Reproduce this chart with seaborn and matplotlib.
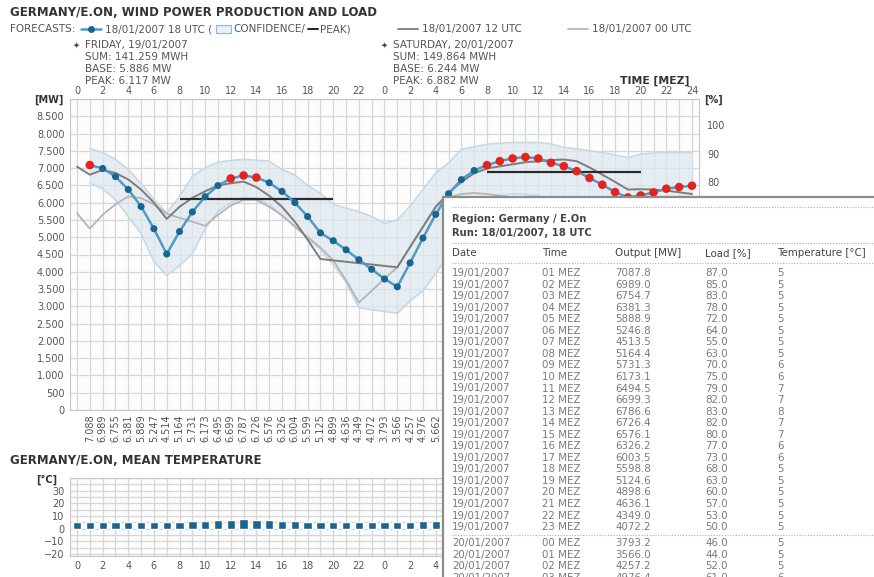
import matplotlib
matplotlib.use("Agg")
import matplotlib.pyplot as plt
import seaborn as sns
from matplotlib.transforms import Affine2D
from matplotlib.lines import Line2D
from matplotlib.patches import Rectangle

# ---- data ----
hours_all = list(range(0, 49))          # 19/01 00 MEZ .. 21/01 00 MEZ
hours = list(range(1, 49))

# forecast run 18/01/2007 18 UTC [MW] (hours 1..48)
fc_18 = [7087.8, 6989.0, 6754.7, 6381.3, 5888.9, 5246.8, 4513.5, 5164.4, 5731.3, 6173.1,
         6494.5, 6699.3, 6786.6, 6726.4, 6576.1, 6326.2, 6003.5, 5598.8, 5124.6, 4898.6,
         4636.1, 4349.0, 4072.2, 3793.2, 3566.0, 4257.2, 4976.4, 5662.0, 6257, 6667,
         6930, 7085, 7203, 7280, 7320, 7280, 7154, 7057, 6911, 6716,
         6520, 6306, 6150, 6209, 6296, 6404, 6452, 6491]
# red markers (above peak threshold)
is_peak = [1, 0, 0, 0, 0, 0, 0, 0, 0, 0, 0, 1, 1, 1, 0, 0, 0, 0, 0, 0,
           0, 0, 0, 0, 0, 0, 0, 0, 0, 0, 0, 1, 1, 1, 1, 1, 1, 1, 1, 1,
           1, 1, 1, 1, 1, 1, 1, 1]

conf_upper = [7560, 7450, 7250, 6960, 6550, 6100, 5700, 6180, 6760, 7010,
              7170, 7220, 7250, 7230, 7200, 6960, 6800, 6500, 6270, 5950,
              5840, 5740, 5600, 5400, 5500, 5900, 6380, 6860, 7150, 7540,
              7620, 7690, 7720, 7740, 7740, 7740, 7700, 7600, 7560, 7500,
              7450, 7380, 7300, 7400, 7440, 7450, 7450, 7450]
conf_lower = [6570, 6400, 6080, 5600, 5100, 4300, 3890, 4180, 4520, 5250,
              5750, 6000, 6150, 6120, 5950, 5600, 5350, 4950, 4650, 4200,
              3700, 2960, 2900, 2850, 2800, 3160, 3450, 3950, 4500, 5200,
              5800, 6100, 6200, 6250, 6240, 6200, 6000, 5800, 5600, 5400,
              5200, 5000, 4900, 4900, 4950, 5000, 5000, 5000]

# forecast run 18/01/2007 12 UTC (hours 0..48)
fc_12 = [7040, 6810, 6950, 6860, 6670, 6380, 6000, 5530, 5880, 6140,
         6330, 6500, 6560, 6610, 6450, 6200, 5880, 5450, 4930, 4370,
         4330, 4290, 4250, 4210, 4170, 4130, 4720, 5300, 5880, 6280,
         6600, 6850, 6990, 7050, 7110, 7170, 7200, 7230, 7250, 7200,
         7020, 6810, 6600, 6380, 6390, 6380, 6350, 6300, 6250]
# forecast run 18/01/2007 00 UTC (hours 0..48)
fc_00 = [5690, 5250, 5650, 5950, 6180, 6130, 5950, 5680, 5560, 5450,
         5330, 5650, 5920, 6080, 6080, 5880, 5640, 5300, 5000, 4700,
         4330, 3750, 3110, 3450, 3800, 4130, 4720, 5300, 5880, 6150,
         6250, 6280, 6250, 6200, 6150, 6100, 6050, 5950, 5850, 5750,
         5650, 5550, 5450, 5400, 5400, 5400, 5400, 5400, 5400]

# daily peak
peak_mw = [6117, 6882]
peak_from = [8, 32]
peak_to = [20, 44]

# mean temperature [°C] (hours 0..48)
temperature = [5, 5, 5, 5, 5, 5, 5, 5, 5, 6, 6, 7, 7, 8, 7, 7, 6, 6,
               5, 5, 5, 5, 5, 5, 5, 5, 5, 6, 6, 6, 6, 7, 7, 7, 7, 7, 7,
               6, 6, 6, 6, 5, 5, 5, 5, 5, 5, 5, 5]

day_names = ["FRIDAY, 19/01/2007", "SATURDAY, 20/01/2007"]
day_sum = [141259, 149864]
day_base = [5886, 6244]
day_peak = [6117, 6882]

# popup table
tab_dates = ["19/01/2007"] * 23 + ["20/01/2007"] * 4
tab_times = [f"{h:02d} MEZ" for h in range(1, 24)] + ["00 MEZ", "01 MEZ", "02 MEZ", "03 MEZ"]
tab_load = [87.0, 85.0, 83.0, 78.0, 72.0, 64.0, 55.0, 63.0, 70.0, 75.0, 79.0, 82.0,
            83.0, 82.0, 80.0, 77.0, 73.0, 68.0, 63.0, 60.0, 57.0, 53.0, 50.0,
            46.0, 44.0, 52.0, 61.0]
tab_output = fc_18[:27]
tab_temp = temperature[1:28]

# last hour not hidden by the popup
last_visible = 28

# ---- styling ----
sns.set_style("white")
plt.rcParams['font.family'] = ['DejaVu Sans']

W, H = 874, 577
fig = plt.figure(figsize=(W / 100, H / 100), dpi=100)
pix = Affine2D().scale(1 / W, -1 / H).translate(0, 1) + fig.transFigure


def box(l, t, r, b):
    return [l / W, 1 - b / H, (r - l) / W, (b - t) / H]


def de(v):
    return f"{int(v + 0.5):,}".replace(",", ".")


def txt(x, y, s, size=7.5, color='#555555', **kw):
    return fig.text(x, y, s, transform=pix, va='center', size=size, color=color, **kw)


GRID = '#d6d6d6'
BLUE_LINE = '#4f9bc4'
BLUE_DOT = '#176690'
RED_DOT = '#e4231f'
DARK_GRAY = '#7d7d7d'
LIGHT_GRAY = '#b5b5b5'

# ---- header ----
txt(10, 13, "GERMANY/E.ON, WIND POWER PRODUCTION AND LOAD", size=8.5, color='#333333', weight='bold')

# legend row, laid out left to right from measured text widths
renderer = fig.canvas.get_renderer()
LY = 29
items = [("text", "FORECASTS:"), ("gap", 6), ("blue", 20), ("gap", 4),
         ("text", "18/01/2007 18 UTC ("), ("gap", 3), ("box", 15), ("gap", 3),
         ("text", "CONFIDENCE/"), ("gap", 3), ("dash", 10), ("gap", 2), ("text", "PEAK)"),
         ("big", 0), ("dark", 20), ("gap", 4), ("text", "18/01/2007 12 UTC"),
         ("big", 0), ("light", 20), ("gap", 4), ("text", "18/01/2007 00 UTC")]
texts = {}
fixed = 0
for k, (kind, v) in enumerate(items):
    if kind == "text":
        t = txt(0, LY, v)
        texts[k] = t
        fixed += t.get_window_extent(renderer).width
    elif kind != "big":
        fixed += v
n_big = sum(1 for kind, _ in items if kind == "big")
big = (692 - 10 - fixed) / n_big
x = 10
for k, (kind, v) in enumerate(items):
    if kind == "text":
        texts[k].set_x(x)
        x += texts[k].get_window_extent(renderer).width
    elif kind == "gap":
        x += v
    elif kind == "big":
        x += big
    else:
        if kind == "blue":
            fig.add_artist(Line2D([x, x + v], [LY, LY], transform=pix, color=BLUE_LINE, lw=1.8))
            fig.add_artist(Line2D([x + v / 2], [LY], transform=pix, marker='o', ms=5,
                                  mec='none', color=BLUE_DOT))
        elif kind == "box":
            fig.add_artist(Rectangle((x, LY - 4), v, 8, transform=pix, facecolor='#e6eff5',
                                     edgecolor='#8fb6d0', lw=0.8))
        elif kind == "dash":
            fig.add_artist(Line2D([x, x + v], [LY, LY], transform=pix, color='#222222', lw=1.4))
        elif kind == "dark":
            fig.add_artist(Line2D([x, x + v], [LY, LY], transform=pix, color=DARK_GRAY, lw=1.3))
        elif kind == "light":
            fig.add_artist(Line2D([x, x + v], [LY, LY], transform=pix, color=LIGHT_GRAY, lw=1.3))
        x += v

for i, x0 in enumerate([77, 385]):
    txt(x0 - 4, 45, "✦", size=6, color='#444444')
    txt(x0 + 8, 45, day_names[i])
    txt(x0 + 8, 57, f"SUM: {de(day_sum[i])} MWH")
    txt(x0 + 8, 69, f"BASE: {de(day_base[i])} MW")
    txt(x0 + 8, 81, f"PEAK: {de(day_peak[i])} MW")

txt(620, 81, "TIME [MEZ]", size=7.8, color='#333333', weight='bold')
txt(34, 100, "[MW]", size=7, color='#333333', weight='bold')
txt(704, 100, "[%]", size=7, color='#333333', weight='bold')

# ---- main chart ----
ax = fig.add_axes(box(70, 99, 699, 410))
ax.set_facecolor('#fcfcfc')
ax.fill_between(hours, conf_lower, conf_upper, color='#dce8f0', alpha=0.7, lw=0, zorder=1)
sns.lineplot(x=hours, y=conf_upper, color='#c6d9e6', lw=1.2, ax=ax, zorder=1.5)
sns.lineplot(x=hours, y=conf_lower, color='#c6d9e6', lw=1.2, ax=ax, zorder=1.5)
sns.lineplot(x=hours_all, y=fc_00, color=LIGHT_GRAY, lw=1.3, ax=ax, zorder=2)
sns.lineplot(x=hours_all, y=fc_12, color=DARK_GRAY, lw=1.4, ax=ax, zorder=2.5)
ax.hlines(peak_mw, peak_from, peak_to, color='#2b2b2b', lw=1.6, zorder=3)
sns.lineplot(x=hours, y=fc_18, color=BLUE_LINE, lw=1.8, ax=ax, zorder=4)
hx_b = [h for h, p in zip(hours, is_peak) if not p]
hy_b = [v for v, p in zip(fc_18, is_peak) if not p]
hx_r = [h for h, p in zip(hours, is_peak) if p]
hy_r = [v for v, p in zip(fc_18, is_peak) if p]
sns.scatterplot(x=hx_b, y=hy_b, color=BLUE_DOT, s=26, edgecolor='none', ax=ax, zorder=5)
sns.scatterplot(x=hx_r, y=hy_r, color=RED_DOT, s=38, edgecolor='none', ax=ax, zorder=5)

ax.set_xlim(-0.55, 48.55)
ax.set_ylim(0, 9000)
value_labels = [de(v) if h <= last_visible else '' for h, v in zip(hours, fc_18)]
ax.set_xticks(hours_all, [''] + value_labels, rotation=90)
ax.set_yticks(range(0, 9001, 500), [de(v) for v in range(0, 9000, 500)] + [''])
ax.tick_params(axis='x', labelsize=7, labelcolor='#555555', length=0, pad=3)
ax.tick_params(axis='y', labelsize=7, labelcolor='#555555', length=0, pad=4)
ax.grid(True, color=GRID, lw=0.9)
ax.set_axisbelow(True)
ax.set_xlabel('')
ax.set_ylabel('')
for s in ax.spines.values():
    s.set_color('#c6c6c6')

hour_labels = [str(h % 24) if h < 48 else '24' for h in range(0, 49, 2)]
top = ax.secondary_xaxis('top')
top.set_xticks(range(0, 49, 2), hour_labels)
top.tick_params(labelsize=7, labelcolor='#555555', length=0, pad=2)
top.spines['top'].set_visible(False)

ax2 = ax.twinx()
ax2.set_ylim(0, 109.3)
ax2.set_yticks(range(80, 101, 10))
ax2.tick_params(labelsize=7, labelcolor='#555555', length=0, pad=6)
for s in ax2.spines.values():
    s.set_visible(False)

# ---- temperature chart ----
txt(10, 461, "GERMANY/E.ON, MEAN TEMPERATURE", size=8.5, color='#333333', weight='bold')
txt(36, 480, "[°C]", size=7, color='#333333', weight='bold')
axt = fig.add_axes(box(70, 478, 699, 556))
axt.set_facecolor('#fcfcfc')
sns.barplot(x=hours_all, y=temperature, native_scale=True, width=0.65, color='#1b6490',
            saturation=1, errorbar=None, ax=axt, zorder=3)
axt.set_xlim(-0.55, 48.55)
axt.set_ylim(-21.5, 40)
axt.set_xticks(range(0, 49, 2), [l if h <= last_visible else ''
                                 for h, l in zip(range(0, 49, 2), hour_labels)])
axt.set_xticks(hours_all, minor=True)
axt.set_yticks(range(-20, 31, 10), [str(v).replace('-', '−') for v in range(-20, 31, 10)])
axt.set_yticks(range(-20, 41, 5), minor=True)
axt.tick_params(which='both', labelsize=7, labelcolor='#555555', length=0)
axt.tick_params(axis='y', pad=4)
axt.grid(True, which='both', color=GRID, lw=0.9)
axt.set_axisbelow(True)
axt.set_xlabel('')
axt.set_ylabel('')
for s in axt.spines.values():
    s.set_color('#c6c6c6')

# ---- popup table ----
fig.add_artist(Rectangle((443, 197), 500, 450, transform=pix, facecolor='white',
                         edgecolor='none', zorder=10))
fig.add_artist(Line2D([443, 443], [197, 600], transform=pix, color='#8c8c8c', lw=1.6, zorder=11))
fig.add_artist(Line2D([443, 900], [197, 197], transform=pix, color='#8c8c8c', lw=1.6, zorder=11))


def dotted(y):
    fig.add_artist(Line2D([452, 880], [y, y], transform=pix, color='#aaaaaa', lw=0.8,
                          ls=(0, (1, 1.5)), zorder=11))


def ptxt(x, y, s, **kw):
    fig.text(x, y, s, transform=pix, va='center', zorder=12, **kw)


dotted(207)
ptxt(452, 218.5, "Region: Germany / E.On", size=7.2, color='#444444', weight='bold')
ptxt(452, 232.5, "Run: 18/01/2007, 18 UTC", size=7.2, color='#444444', weight='bold')
dotted(243)
cols = [452, 542, 615, 705, 777]
for x, head in zip(cols, ["Date", "Time", "Output [MW]", "Load [%]", "Temperature [°C]"]):
    ptxt(x, 253.5, head, size=7.4, color='#444444')
dotted(263)
for i in range(len(tab_dates)):
    y = 273 + i * 11.55 if i < 23 else 543.3 + (i - 23) * 11.55
    row = [tab_dates[i], tab_times[i], f"{tab_output[i]:.1f}", f"{tab_load[i]:.1f}", str(tab_temp[i])]
    for x, s in zip(cols, row):
        ptxt(x, y, s, size=7.4, color='#7a7a7a')
dotted(534.5)

fig.savefig("out.png", dpi=100, facecolor='white')
